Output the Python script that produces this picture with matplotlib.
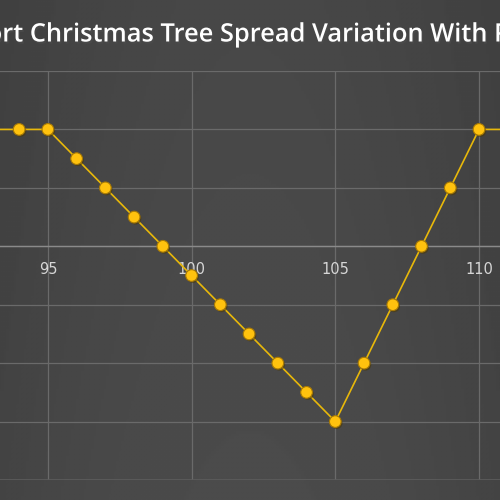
import matplotlib
matplotlib.use("Agg")
import matplotlib.pyplot as plt
import matplotlib.patheffects as pe
import numpy as np

# Data
title = "Short Christmas Tree Spread Variation With Puts"
prices = [93, 94, 95, 96, 97, 98, 99, 100, 101, 102, 103, 104, 105, 106, 107, 108, 109, 110, 111, 112]
payoff = [4, 4, 4, 3, 2, 1, 0, -1, -2, -3, -4, -5, -6, -4, -2, 0, 2, 4, 4, 4]
xticks = [95, 100, 105, 110]
yticks = [-8, -6, -4, -2, 0, 2, 4, 6]

fig = plt.figure(figsize=(5, 5), dpi=100)
fig.patch.set_facecolor("#424242")

# subtle background gradient
bg = fig.add_axes([0, 0, 1, 1], zorder=-10)
yy = np.linspace(0, 1, 200)[:, None]
xx = np.linspace(-1, 1, 200)[None, :]
grad = 0.265 + 0.03 * (1 - xx**2) * np.ones_like(yy) - 0.015 * (1 - yy)
bg.imshow(grad, cmap="gray", vmin=0, vmax=1, aspect="auto", extent=[0, 1, 0, 1])
bg.axis("off")

ax = fig.add_axes([0, 0.04, 1, 0.818])
ax.set_facecolor("none")
ax.set_xlim(93.334, 110.73)
ax.set_ylim(-8, 6)

ax.plot(prices, payoff, color="#E8B80A", lw=1.2, zorder=3)
ax.plot(prices, payoff, ls="none", marker="o", ms=8.4, mfc="#FFC20E",
        mec="#A87A05", mew=0.8, zorder=4,
        path_effects=[pe.SimplePatchShadow(offset=(1, -1.2), alpha=0.55), pe.Normal()])

ax.set_xticks(xticks)
ax.set_yticks(yticks)
ax.grid(True, color="#6a6a6a", lw=0.9)
ax.set_axisbelow(True)
for s in ["left", "right", "top"]:
    ax.spines[s].set_visible(False)
ax.spines["bottom"].set_position(("data", 0))
ax.spines["bottom"].set_color("#8a8a8a")
ax.spines["bottom"].set_linewidth(1.0)
ax.tick_params(axis="x", length=0, pad=11, labelsize=10.5, labelcolor="#d6d6d6")
ax.tick_params(axis="y", length=0, labelleft=False)
ax.axhline(-8, color="#5c5c5c", lw=1.2, zorder=1)

fig.text(0.505, 0.93, title, ha="center", va="center", color="white",
         fontsize=18.3, fontweight="semibold", family=["Open Sans", "DejaVu Sans"],
         path_effects=[pe.withSimplePatchShadow(offset=(1, -1.5), alpha=0.6)])

fig.savefig("out.png", dpi=100, facecolor=fig.get_facecolor())
